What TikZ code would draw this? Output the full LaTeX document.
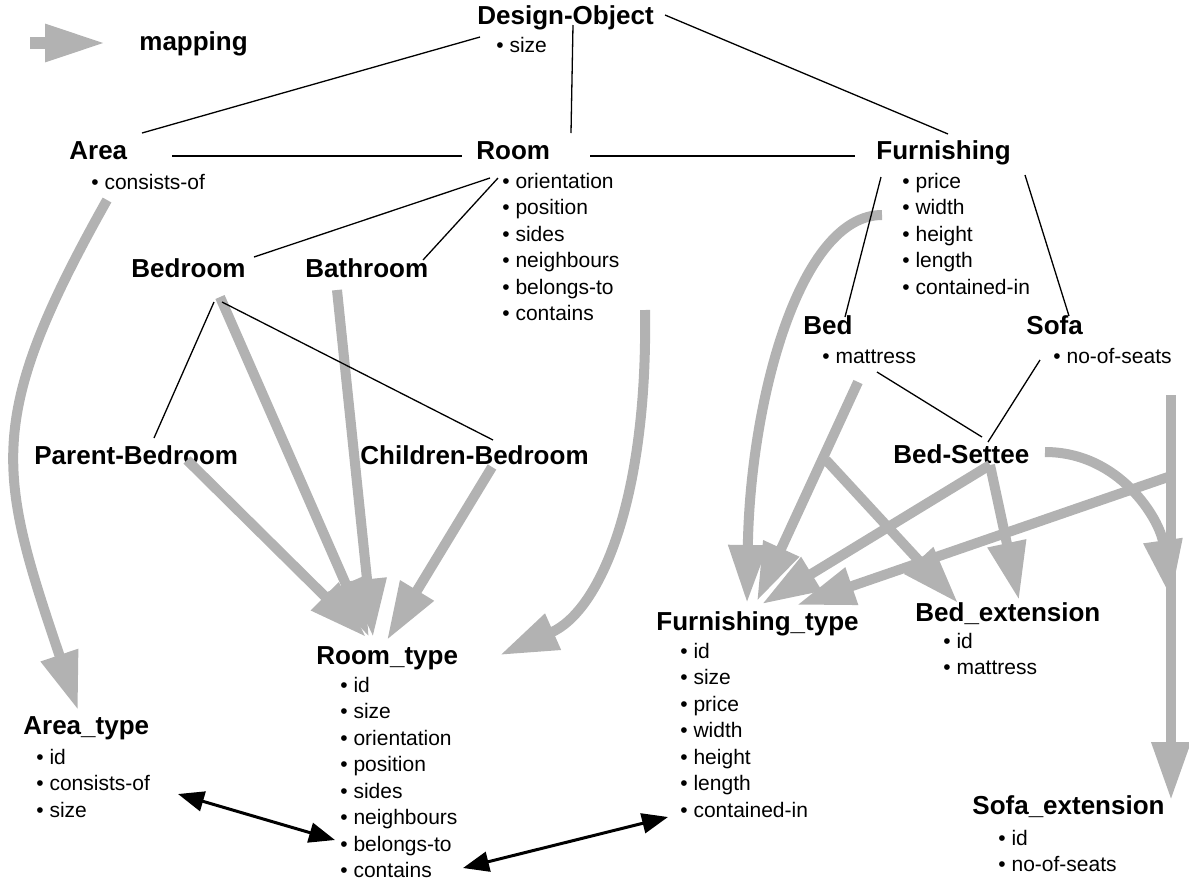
\documentclass[tikz,border=0pt]{standalone}
\usepackage{fontspec}
\setmainfont{Liberation Sans}
\usetikzlibrary{arrows.meta}
\definecolor{mapgray}{gray}{0.7}
\newcommand\myfl{\rule{0pt}{8pt}}
\begin{document}
\begin{tikzpicture}[x=0.5pt,y=-0.5pt,
  ttl/.style={font=\fontsize{13}{15}\selectfont\bfseries, inner sep=0pt, anchor=base west},
  lst/.style={font=\fontsize{10.5}{13.25}\selectfont, inner sep=0pt, anchor=north west, align=left},
  link/.style={line width=0.65pt},
  maparrow/.style={draw=mapgray, line width=5pt, -{Triangle[length=29pt,width=18.5pt]}},
  dbl/.style={line width=1.5pt, {Triangle[length=13pt,width=10pt]}-{Triangle[length=13pt,width=10pt]}}
  ]
\useasboundingbox (0,0) rectangle (1189,890);

% ---------- titles ----------
\node[ttl] (dobj) at (477,24) {Design-Object};
\node[ttl] (mapping) at (139,50) {mapping};
\node[ttl] (area) at (69,159) {Area};
\node[ttl] (room) at (476,159) {Room};
\node[ttl] (furn) at (876,159) {Furnishing};
\node[ttl] (bedroom) at (131,277) {Bedroom};
\node[ttl] (bathroom) at (305,277) {Bathroom};
\node[ttl] (bed) at (803,334) {Bed};
\node[ttl] (sofa) at (1026,334) {Sofa};
\node[ttl] (parent) at (34,464) {Parent-Bedroom};
\node[ttl] (children) at (360,464) {Children-Bedroom};
\node[ttl] (bedsettee) at (893,463) {Bed-Settee};
\node[ttl] (roomtype) at (316,664) {Room\_type};
\node[ttl] (furntype) at (656,630) {Furnishing\_type};
\node[ttl] (bedext) at (915,621) {Bed\_extension};
\node[ttl] (areatype) at (23,734) {Area\_type};
\node[ttl] (sofaext) at (972,814) {Sofa\_extension};

% ---------- attribute lists ----------
\node[lst] (dobjl) at (496,36) {\myfl• size};
\node[lst] (areal) at (91,173) {\myfl• consists-of};
\node[lst] (rooml) at (502,172) {\myfl• orientation\\• position\\• sides\\• neighbours\\• belongs-to\\• contains};
\node[lst] (furnl) at (902,172) {\myfl• price\\• width\\• height\\• length\\• contained-in};
\node[lst] (bedl) at (822,347) {\myfl• mattress};
\node[lst] (sofal) at (1053,347) {\myfl• no-of-seats};
\node[lst] (roomtypel) at (340,676) {\myfl• id\\• size\\• orientation\\• position\\• sides\\• neighbours\\• belongs-to\\• contains};
\node[lst] (furntypel) at (680,642) {\myfl• id\\• size\\• price\\• width\\• height\\• length\\• contained-in};
\node[lst] (bedextl) at (943,632) {\myfl• id\\• mattress};
\node[lst] (areatypel) at (36,748) {\myfl• id\\• consists-of\\• size};
\node[lst] (sofaextl) at (998,829) {\myfl• id\\• no-of-seats};

% ---------- gray mapping arrows ----------
\coordinate (lega) at (30,43);
\coordinate (legb) at (106,43);
\draw[maparrow, line width=6pt, -{Triangle[length=30.5pt,width=17.5pt]}] (lega) -- (legb);

\coordinate (areaout) at (107,200);
\coordinate (areatypein) at (78,710);
\draw[maparrow] (areaout) .. controls (-16,419) and (-3,471) .. (areatypein);

\coordinate (bedroomout) at (220,297);
\coordinate (bathroomout) at (337,290);
\coordinate (parentout) at (187,460);
\coordinate (childrenout) at (492,467);
\coordinate (rtin1) at (369,637);
\coordinate (rtin2) at (373,637);
\coordinate (rtin3) at (366,637);
\coordinate (rtin4) at (387,640);
\draw[maparrow] (bedroomout) -- (rtin1);
\draw[maparrow] (bathroomout) -- (rtin2);
\draw[maparrow] (parentout) -- (rtin3);
\draw[maparrow] (childrenout) -- (rtin4);

\coordinate (roomout) at (645,310);
\coordinate (rtin5) at (500,655);
\draw[maparrow] (roomout) .. controls (648,500) and (600,611) .. (rtin5);

\coordinate (furnout) at (882,215);
\coordinate (ftin1) at (747,603);
\draw[maparrow] (furnout) .. controls (800,215) and (750,400) .. (ftin1);

\coordinate (bedout) at (858,382);
\coordinate (bedout2) at (826,460);
\coordinate (ftin2) at (757,601);
\coordinate (beextin1) at (958,603);
\draw[maparrow] (bedout) -- (ftin2);
\draw[maparrow] (bedout2) -- (beextin1);

\coordinate (bsout) at (990,465);
\coordinate (ftin3) at (762,604);
\coordinate (beextin2) at (1019,600);
\draw[maparrow] (bsout) -- (ftin3);
\draw[maparrow] (bsout) -- (beextin2);

\coordinate (bsout2) at (1045,452);
\coordinate (seextin1) at (1171,598);
\draw[maparrow] (bsout2) .. controls (1120,452) and (1160,520) .. (seextin1);

\coordinate (sofaout) at (1171,395);
\coordinate (seextin2) at (1171,800);
\draw[maparrow] (sofaout) -- (seextin2);

\coordinate (sofaout2) at (1168,477);
\coordinate (ftin4) at (797,605);
\draw[maparrow] (sofaout2) -- (ftin4);

% ---------- hierarchy links ----------
\coordinate (d1) at (480,37);  \coordinate (a1) at (142,133);
\draw[link] (d1) -- (a1);
\coordinate (d2) at (573,25);  \coordinate (r1) at (571,133);
\draw[link] (d2) -- (r1);
\coordinate (d3) at (665,15);  \coordinate (f1) at (948,134);
\draw[link] (d3) -- (f1);
\coordinate (a2) at (172,156); \coordinate (r2) at (462,156);
\draw[link] (a2) -- (r2);
\coordinate (r3) at (590,156); \coordinate (f2) at (855,156);
\draw[link] (r3) -- (f2);
\coordinate (r4) at (490,178); \coordinate (b1) at (254,257);
\draw[link] (r4) -- (b1);
\coordinate (r5) at (498,178); \coordinate (ba1) at (423,260);
\draw[link] (r5) -- (ba1);
\coordinate (b2) at (214,302); \coordinate (p1) at (154,438);
\draw[link] (b2) -- (p1);
\coordinate (b3) at (222,302); \coordinate (c1) at (493,440);
\draw[link] (b3) -- (c1);
\coordinate (f3) at (881,177); \coordinate (be1) at (845,317);
\draw[link] (f3) -- (be1);
\coordinate (f4) at (1025,175); \coordinate (s1) at (1069,316);
\draw[link] (f4) -- (s1);
\coordinate (be2) at (877,372); \coordinate (bs1) at (982,437);
\draw[link] (be2) -- (bs1);
\coordinate (s2) at (1040,360); \coordinate (bs2) at (988,442);
\draw[link] (s2) -- (bs2);

% ---------- black associations ----------
\coordinate (atc) at (178,794); \coordinate (rtb) at (335,840);
\draw[dbl] (atc) -- (rtb);
\coordinate (rtc) at (463,868); \coordinate (ftc) at (668,817);
\draw[dbl] (rtc) -- (ftc);
\end{tikzpicture}
\end{document}
